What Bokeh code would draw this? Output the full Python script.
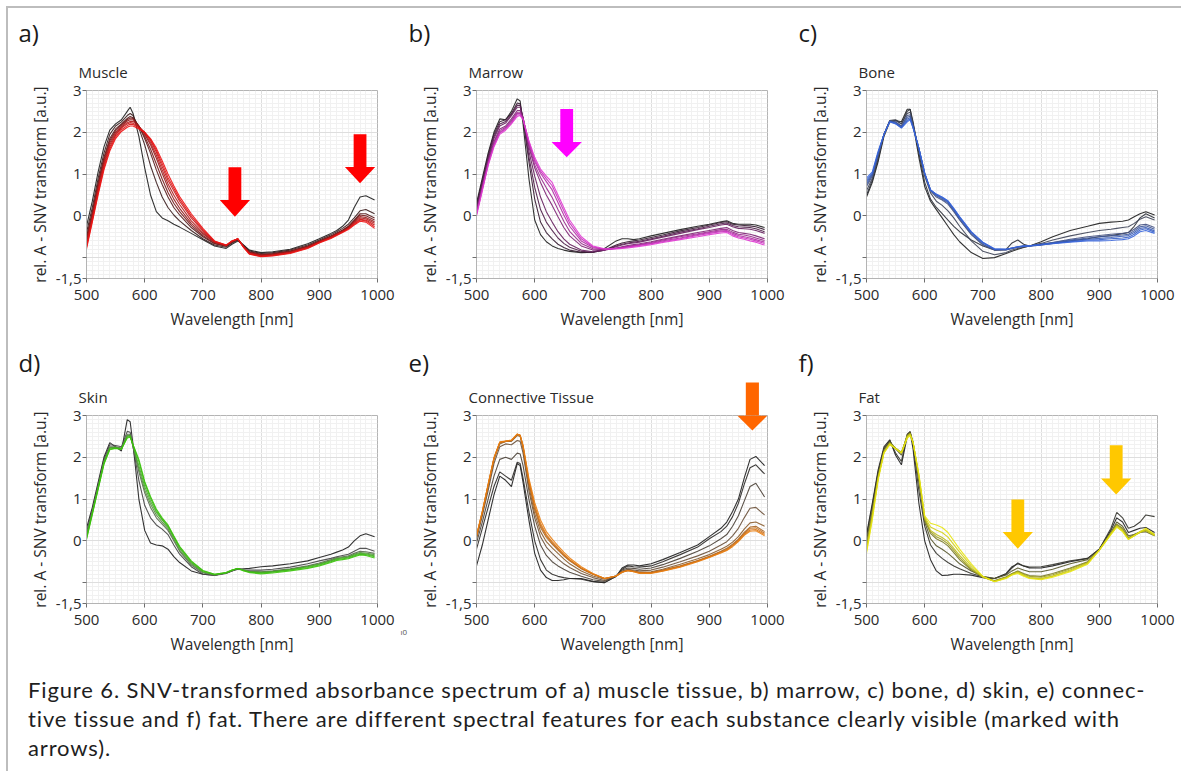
from bokeh.plotting import figure
from bokeh.layouts import column, row
from bokeh.models import Range1d, FixedTicker, Label, PolyAnnotation, Div
from bokeh.embed import file_html
from bokeh.resources import INLINE

# ---------------- data ----------------
WAVELENGTH = [500, 510, 520, 530, 540, 550, 560, 570, 575, 580,
              590, 600, 610, 620, 630, 640, 650, 660, 680, 700,
              720, 740, 750, 760, 770, 780, 800, 820, 850, 880,
              900, 920, 930, 940, 950, 960, 970, 980, 995]

X_TICKS = [500, 600, 700, 800, 900, 1000]
Y_GRID_TICKS = [-1.5, -1, 0, 1, 2, 3]
Y_LABELLED_TICKS = [-1.5, 0, 1, 2, 3]
Y_UNLABELLED_TICKS = [-1]
Y_TICK_LABELS = {-1.5: "-1,5"}

MUSCLE = [
    [-0.25, 0.35, 1.05, 1.65, 2.05, 2.2, 2.3, 2.5, 2.6, 2.45,
     1.9, 1.15, 0.5, 0.1, -0.05, -0.12, -0.2, -0.27, -0.42, -0.57,
     -0.72, -0.78, -0.68, -0.6, -0.7, -0.82, -0.88, -0.86, -0.8, -0.67,
     -0.55, -0.42, -0.35, -0.25, -0.1, 0.2, 0.45, 0.48, 0.38],
    [-0.4, 0.2, 0.9, 1.5, 1.95, 2.15, 2.25, 2.4, 2.45, 2.4,
     2.1, 1.7, 1.2, 0.8, 0.45, 0.2, 0.02, -0.12, -0.35, -0.55,
     -0.7, -0.75, -0.65, -0.58, -0.7, -0.84, -0.9, -0.88, -0.82, -0.7,
     -0.58, -0.45, -0.38, -0.3, -0.2, -0.05, 0.12, 0.15, 0.05],
    [-0.5, 0.1, 0.8, 1.4, 1.85, 2.08, 2.2, 2.33, 2.38, 2.35,
     2.15, 1.85, 1.5, 1.1, 0.75, 0.45, 0.2, 0.02, -0.28, -0.5,
     -0.67, -0.73, -0.63, -0.57, -0.72, -0.86, -0.92, -0.9, -0.84, -0.72,
     -0.6, -0.48, -0.41, -0.34, -0.25, -0.1, 0.05, 0.05, -0.05],
    [-0.55, 0.05, 0.75, 1.35, 1.8, 2.04, 2.18, 2.3, 2.34, 2.33,
     2.15, 1.9, 1.6, 1.24, 0.88, 0.56, 0.3, 0.1, -0.23, -0.47,
     -0.66, -0.72, -0.62, -0.56, -0.73, -0.87, -0.93, -0.91, -0.85, -0.73,
     -0.61, -0.49, -0.42, -0.35, -0.26, -0.12, 0.02, 0.0, -0.1],
    [-0.6, 0.0, 0.7, 1.3, 1.75, 2.0, 2.15, 2.27, 2.3, 2.3,
     2.15, 1.95, 1.7, 1.38, 1.02, 0.68, 0.4, 0.18, -0.18, -0.43,
     -0.64, -0.72, -0.62, -0.56, -0.74, -0.88, -0.94, -0.92, -0.86, -0.74,
     -0.62, -0.5, -0.43, -0.36, -0.28, -0.14, -0.02, -0.04, -0.14],
    [-0.65, -0.04, 0.65, 1.25, 1.7, 1.96, 2.12, 2.23, 2.26, 2.26,
     2.14, 1.98, 1.75, 1.45, 1.1, 0.77, 0.5, 0.27, -0.12, -0.4,
     -0.63, -0.71, -0.61, -0.55, -0.74, -0.89, -0.95, -0.93, -0.87, -0.75,
     -0.62, -0.51, -0.44, -0.37, -0.29, -0.16, -0.05, -0.07, -0.18],
    [-0.7, -0.08, 0.6, 1.2, 1.65, 1.93, 2.1, 2.2, 2.23, 2.22,
     2.12, 2.0, 1.8, 1.52, 1.18, 0.85, 0.6, 0.35, -0.05, -0.36,
     -0.62, -0.71, -0.61, -0.55, -0.75, -0.9, -0.96, -0.94, -0.88, -0.76,
     -0.63, -0.52, -0.45, -0.38, -0.3, -0.18, -0.08, -0.1, -0.22],
    [-0.75, -0.12, 0.55, 1.15, 1.6, 1.89, 2.06, 2.16, 2.19, 2.19,
     2.1, 2.0, 1.83, 1.57, 1.25, 0.92, 0.66, 0.4, 0.0, -0.33,
     -0.61, -0.7, -0.6, -0.55, -0.75, -0.91, -0.97, -0.95, -0.89, -0.77,
     -0.64, -0.53, -0.46, -0.39, -0.31, -0.2, -0.1, -0.12, -0.26],
    [-0.8, -0.15, 0.5, 1.1, 1.55, 1.85, 2.02, 2.12, 2.15, 2.15,
     2.08, 2.0, 1.85, 1.62, 1.32, 1.0, 0.72, 0.46, 0.05, -0.3,
     -0.6, -0.7, -0.6, -0.55, -0.76, -0.92, -0.98, -0.96, -0.9, -0.78,
     -0.65, -0.54, -0.47, -0.4, -0.33, -0.22, -0.13, -0.15, -0.3],
]
MUSCLE_COLORS = ["#1e1e1e", "#3a1c1c", "#581b1b", "#761a1a", "#941818",
                 "#b01717", "#c81616", "#dc1414", "#ee1212"]

MARROW = [
    [0.3, 0.9, 1.5, 2.0, 2.32, 2.3, 2.5, 2.8, 2.75, 2.2,
     0.9, -0.1, -0.45, -0.62, -0.72, -0.78, -0.82, -0.85, -0.88, -0.87,
     -0.78, -0.6, -0.55, -0.55, -0.57, -0.55, -0.48, -0.42, -0.33, -0.25,
     -0.2, -0.14, -0.12, -0.18, -0.2, -0.2, -0.2, -0.22, -0.28],
    [0.25, 0.85, 1.45, 1.95, 2.25, 2.3, 2.45, 2.7, 2.68, 2.3,
     1.3, 0.4, -0.15, -0.4, -0.55, -0.68, -0.76, -0.82, -0.87, -0.87,
     -0.82, -0.7, -0.65, -0.62, -0.6, -0.58, -0.52, -0.46, -0.36, -0.28,
     -0.22, -0.16, -0.14, -0.2, -0.22, -0.23, -0.24, -0.26, -0.33],
    [0.2, 0.8, 1.4, 1.9, 2.2, 2.26, 2.42, 2.65, 2.64, 2.33,
     1.42, 0.68, 0.15, -0.15, -0.35, -0.53, -0.66, -0.75, -0.85, -0.87,
     -0.82, -0.72, -0.68, -0.65, -0.63, -0.61, -0.55, -0.49, -0.39, -0.31,
     -0.25, -0.19, -0.17, -0.23, -0.26, -0.27, -0.28, -0.31, -0.38],
    [0.15, 0.75, 1.35, 1.85, 2.15, 2.22, 2.4, 2.6, 2.6, 2.35,
     1.55, 0.95, 0.45, 0.1, -0.15, -0.38, -0.55, -0.68, -0.82, -0.86,
     -0.82, -0.74, -0.7, -0.67, -0.65, -0.63, -0.57, -0.51, -0.42, -0.33,
     -0.28, -0.22, -0.2, -0.26, -0.3, -0.31, -0.32, -0.35, -0.42],
    [0.1, 0.7, 1.3, 1.78, 2.08, 2.15, 2.32, 2.52, 2.52, 2.35,
     1.65, 1.15, 0.8, 0.5, 0.25, -0.02, -0.28, -0.48, -0.72, -0.82,
     -0.82, -0.77, -0.74, -0.71, -0.69, -0.67, -0.62, -0.56, -0.48, -0.4,
     -0.35, -0.3, -0.28, -0.35, -0.4, -0.42, -0.44, -0.48, -0.55],
    [0.08, 0.68, 1.28, 1.74, 2.04, 2.12, 2.28, 2.48, 2.48, 2.34,
     1.7, 1.22, 0.92, 0.67, 0.44, 0.15, -0.13, -0.37, -0.66, -0.79,
     -0.81, -0.78, -0.75, -0.73, -0.71, -0.69, -0.64, -0.58, -0.5, -0.43,
     -0.38, -0.33, -0.32, -0.39, -0.44, -0.46, -0.49, -0.53, -0.59],
    [0.05, 0.65, 1.25, 1.7, 2.0, 2.1, 2.25, 2.45, 2.45, 2.33,
     1.75, 1.3, 1.02, 0.82, 0.62, 0.32, 0.02, -0.25, -0.6, -0.76,
     -0.8, -0.78, -0.76, -0.74, -0.72, -0.7, -0.66, -0.6, -0.53, -0.45,
     -0.4, -0.36, -0.35, -0.42, -0.47, -0.5, -0.53, -0.57, -0.63],
    [0.02, 0.62, 1.22, 1.68, 1.98, 2.08, 2.22, 2.42, 2.42, 2.32,
     1.78, 1.35, 1.07, 0.89, 0.72, 0.42, 0.12, -0.17, -0.55, -0.74,
     -0.8, -0.78, -0.77, -0.75, -0.73, -0.71, -0.67, -0.62, -0.55, -0.47,
     -0.42, -0.38, -0.37, -0.45, -0.5, -0.53, -0.56, -0.6, -0.66],
    [0.0, 0.6, 1.2, 1.65, 1.95, 2.05, 2.2, 2.38, 2.4, 2.3,
     1.8, 1.4, 1.12, 0.95, 0.8, 0.5, 0.2, -0.1, -0.5, -0.72,
     -0.79, -0.79, -0.78, -0.77, -0.75, -0.73, -0.69, -0.64, -0.57, -0.5,
     -0.45, -0.41, -0.4, -0.48, -0.53, -0.56, -0.6, -0.63, -0.7],
]
MARROW_COLORS = ["#1e1e1e", "#361c32", "#4e1e48", "#66205e", "#7e2474",
                 "#982a8c", "#b02ea4", "#c832bc", "#e038d2"]

BONE = [
    [0.45, 0.8, 1.3, 1.9, 2.25, 2.28, 2.25, 2.55, 2.55, 2.2,
     1.4, 0.7, 0.35, 0.15, -0.05, -0.25, -0.45, -0.62, -0.88, -1.02,
     -1.0, -0.9, -0.85, -0.8, -0.76, -0.72, -0.62, -0.5, -0.35, -0.25,
     -0.18, -0.15, -0.14, -0.13, -0.1, -0.02, 0.05, 0.1, 0.02],
    [0.5, 0.85, 1.35, 1.95, 2.28, 2.3, 2.2, 2.5, 2.55, 2.25,
     1.5, 0.8, 0.4, 0.2, 0.05, -0.1, -0.25, -0.38, -0.58, -0.72,
     -0.82, -0.8, -0.65, -0.58, -0.68, -0.72, -0.7, -0.66, -0.6, -0.55,
     -0.5, -0.47, -0.45, -0.43, -0.4, -0.25, -0.05, 0.05, -0.05],
    [0.6, 0.9, 1.4, 1.95, 2.27, 2.28, 2.2, 2.45, 2.48, 2.2,
     1.55, 0.95, 0.55, 0.35, 0.25, 0.12, -0.05, -0.25, -0.6, -0.85,
     -0.93, -0.88, -0.82, -0.78, -0.75, -0.72, -0.66, -0.58, -0.48, -0.4,
     -0.35, -0.32, -0.3, -0.28, -0.26, -0.18, -0.08, -0.02, -0.1],
    [0.7, 0.95, 1.45, 1.95, 2.27, 2.25, 2.15, 2.4, 2.42, 2.15,
     1.6, 1.0, 0.6, 0.45, 0.38, 0.28, 0.1, -0.1, -0.45, -0.7,
     -0.82, -0.82, -0.78, -0.75, -0.73, -0.72, -0.68, -0.64, -0.56, -0.5,
     -0.47, -0.44, -0.43, -0.42, -0.4, -0.32, -0.22, -0.2, -0.28],
    [0.75, 0.98, 1.48, 1.95, 2.27, 2.24, 2.14, 2.36, 2.38, 2.14,
     1.61, 1.01, 0.61, 0.48, 0.4, 0.31, 0.13, -0.08, -0.43, -0.68,
     -0.81, -0.81, -0.78, -0.75, -0.73, -0.72, -0.68, -0.64, -0.58, -0.53,
     -0.5, -0.48, -0.47, -0.46, -0.44, -0.36, -0.26, -0.24, -0.32],
    [0.8, 1.0, 1.5, 1.95, 2.26, 2.22, 2.12, 2.32, 2.35, 2.12,
     1.62, 1.02, 0.62, 0.5, 0.42, 0.33, 0.15, -0.05, -0.4, -0.65,
     -0.8, -0.8, -0.77, -0.74, -0.72, -0.72, -0.68, -0.65, -0.6, -0.56,
     -0.54, -0.52, -0.5, -0.49, -0.47, -0.4, -0.3, -0.28, -0.36],
    [0.85, 1.02, 1.52, 1.95, 2.25, 2.21, 2.11, 2.28, 2.32, 2.11,
     1.62, 1.02, 0.62, 0.51, 0.44, 0.35, 0.17, -0.03, -0.39, -0.64,
     -0.8, -0.8, -0.77, -0.74, -0.72, -0.72, -0.69, -0.66, -0.62, -0.58,
     -0.57, -0.55, -0.54, -0.53, -0.51, -0.44, -0.34, -0.31, -0.39],
    [0.9, 1.05, 1.55, 1.95, 2.25, 2.2, 2.1, 2.25, 2.3, 2.1,
     1.62, 1.02, 0.62, 0.52, 0.45, 0.36, 0.18, -0.02, -0.38, -0.63,
     -0.79, -0.8, -0.77, -0.74, -0.73, -0.72, -0.7, -0.67, -0.63, -0.6,
     -0.6, -0.59, -0.58, -0.57, -0.55, -0.48, -0.38, -0.35, -0.42],
]
BONE_COLORS = ["#1e1e1e", "#2c3038", "#3e4456", "#425080", "#3e5698",
               "#3a5cb4", "#3860c8", "#3664dc"]

SKIN = [
    [0.3, 0.8, 1.4, 2.0, 2.35, 2.25, 2.15, 2.9, 2.85, 2.3,
     1.0, 0.25, -0.05, -0.1, -0.12, -0.2, -0.38, -0.52, -0.72, -0.8,
     -0.82, -0.77, -0.72, -0.68, -0.67, -0.66, -0.62, -0.6, -0.55, -0.48,
     -0.4, -0.32, -0.27, -0.22, -0.15, 0.0, 0.12, 0.17, 0.1],
    [0.2, 0.75, 1.35, 1.95, 2.3, 2.28, 2.25, 2.62, 2.6, 2.25,
     1.45, 0.85, 0.55, 0.38, 0.28, 0.15, -0.1, -0.32, -0.62, -0.8,
     -0.83, -0.78, -0.72, -0.66, -0.7, -0.7, -0.7, -0.68, -0.63, -0.55,
     -0.48, -0.42, -0.38, -0.35, -0.32, -0.25, -0.18, -0.18, -0.25],
    [0.15, 0.7, 1.3, 1.9, 2.25, 2.25, 2.22, 2.55, 2.55, 2.25,
     1.65, 1.15, 0.8, 0.55, 0.4, 0.25, 0.0, -0.25, -0.58, -0.77,
     -0.82, -0.77, -0.71, -0.66, -0.7, -0.73, -0.74, -0.72, -0.67, -0.6,
     -0.53, -0.45, -0.4, -0.38, -0.36, -0.3, -0.25, -0.26, -0.3],
    [0.12, 0.69, 1.29, 1.89, 2.23, 2.24, 2.21, 2.52, 2.53, 2.27,
     1.72, 1.22, 0.88, 0.62, 0.45, 0.29, 0.04, -0.22, -0.55, -0.75,
     -0.81, -0.77, -0.71, -0.66, -0.7, -0.73, -0.75, -0.73, -0.68, -0.61,
     -0.55, -0.47, -0.42, -0.4, -0.38, -0.32, -0.28, -0.29, -0.33],
    [0.1, 0.68, 1.28, 1.88, 2.22, 2.23, 2.2, 2.5, 2.52, 2.28,
     1.8, 1.3, 0.95, 0.68, 0.5, 0.33, 0.08, -0.18, -0.52, -0.74,
     -0.81, -0.77, -0.71, -0.66, -0.7, -0.74, -0.76, -0.74, -0.69, -0.62,
     -0.56, -0.48, -0.43, -0.41, -0.39, -0.34, -0.3, -0.31, -0.36],
    [0.05, 0.65, 1.25, 1.85, 2.2, 2.22, 2.2, 2.48, 2.5, 2.3,
     1.9, 1.38, 1.02, 0.72, 0.52, 0.36, 0.1, -0.15, -0.5, -0.72,
     -0.8, -0.76, -0.7, -0.66, -0.71, -0.75, -0.77, -0.75, -0.7, -0.64,
     -0.58, -0.5, -0.45, -0.43, -0.41, -0.36, -0.32, -0.33, -0.38],
    [0.03, 0.63, 1.23, 1.83, 2.18, 2.21, 2.19, 2.46, 2.48, 2.3,
     1.95, 1.42, 1.06, 0.76, 0.55, 0.38, 0.12, -0.13, -0.48, -0.71,
     -0.8, -0.76, -0.7, -0.66, -0.72, -0.76, -0.79, -0.77, -0.72, -0.66,
     -0.6, -0.52, -0.47, -0.45, -0.43, -0.38, -0.34, -0.35, -0.41],
]
SKIN_COLORS = ["#1e1e1e", "#444444", "#5a6a50", "#569040", "#4aa82c", "#40b81a", "#38c408"]

CONNECTIVE = [
    [-0.6, -0.1, 0.5, 1.1, 1.55, 1.45, 1.3, 1.85, 1.8, 1.4,
     0.5, -0.3, -0.7, -0.88, -0.95, -0.95, -0.93, -0.9, -0.9, -0.97,
     -1.0, -0.85, -0.65, -0.58, -0.58, -0.6, -0.55, -0.45, -0.28, -0.1,
     0.1, 0.3, 0.45, 0.7, 1.0, 1.5, 1.95, 2.02, 1.8],
    [-0.2, 0.3, 0.8, 1.3, 1.65, 1.55, 1.45, 1.88, 1.85, 1.5,
     0.7, 0.0, -0.45, -0.7, -0.8, -0.85, -0.88, -0.9, -0.92, -0.98,
     -1.0, -0.85, -0.68, -0.6, -0.62, -0.63, -0.6, -0.5, -0.33, -0.15,
     0.05, 0.22, 0.35, 0.58, 0.9, 1.35, 1.75, 1.82, 1.6],
    [-0.05, 0.45, 1.0, 1.55, 1.95, 2.0, 1.95, 2.1, 2.08, 1.8,
     1.0, 0.35, -0.1, -0.35, -0.5, -0.6, -0.68, -0.75, -0.85, -0.93,
     -0.97, -0.85, -0.7, -0.65, -0.66, -0.68, -0.65, -0.57, -0.42, -0.25,
     -0.12, 0.05, 0.15, 0.35, 0.6, 0.95, 1.3, 1.38, 1.05],
    [0.05, 0.6, 1.2, 1.85, 2.25, 2.32, 2.3, 2.4, 2.38, 2.1,
     1.2, 0.55, 0.1, -0.15, -0.3, -0.43, -0.55, -0.64, -0.78, -0.88,
     -0.95, -0.85, -0.72, -0.68, -0.7, -0.72, -0.7, -0.63, -0.5, -0.36,
     -0.25, -0.1, -0.02, 0.12, 0.3, 0.55, 0.78, 0.8, 0.62],
    [0.08, 0.65, 1.3, 1.95, 2.32, 2.38, 2.38, 2.52, 2.5, 2.2,
     1.3, 0.65, 0.22, -0.02, -0.17, -0.3, -0.43, -0.55, -0.72, -0.84,
     -0.92, -0.84, -0.74, -0.7, -0.72, -0.75, -0.74, -0.68, -0.56, -0.43,
     -0.33, -0.2, -0.13, -0.03, 0.1, 0.28, 0.43, 0.45, 0.35],
    [0.1, 0.68, 1.33, 1.97, 2.35, 2.38, 2.4, 2.55, 2.53, 2.25,
     1.38, 0.75, 0.32, 0.08, -0.08, -0.22, -0.36, -0.48, -0.67, -0.8,
     -0.9, -0.84, -0.75, -0.71, -0.73, -0.76, -0.76, -0.7, -0.6, -0.47,
     -0.37, -0.25, -0.18, -0.08, 0.04, 0.2, 0.33, 0.35, 0.22],
    [0.11, 0.69, 1.34, 1.97, 2.35, 2.38, 2.4, 2.55, 2.52, 2.26,
     1.42, 0.8, 0.37, 0.12, -0.05, -0.2, -0.34, -0.46, -0.66, -0.8,
     -0.9, -0.84, -0.75, -0.71, -0.73, -0.76, -0.76, -0.71, -0.61, -0.48,
     -0.38, -0.26, -0.2, -0.1, 0.02, 0.17, 0.3, 0.31, 0.18],
    [0.12, 0.7, 1.35, 1.98, 2.36, 2.38, 2.4, 2.55, 2.52, 2.27,
     1.45, 0.85, 0.42, 0.15, -0.02, -0.17, -0.32, -0.45, -0.65, -0.79,
     -0.9, -0.84, -0.75, -0.71, -0.74, -0.77, -0.77, -0.72, -0.62, -0.49,
     -0.39, -0.28, -0.22, -0.12, 0.0, 0.15, 0.26, 0.27, 0.15],
    [0.13, 0.71, 1.36, 1.99, 2.37, 2.39, 2.41, 2.56, 2.53, 2.29,
     1.5, 0.92, 0.5, 0.22, 0.04, -0.12, -0.27, -0.41, -0.62, -0.78,
     -0.9, -0.84, -0.75, -0.71, -0.74, -0.78, -0.78, -0.73, -0.63, -0.5,
     -0.4, -0.29, -0.23, -0.14, -0.02, 0.13, 0.23, 0.24, 0.12],
]
CONNECTIVE_COLORS = ["#1e1e1e", "#2c2a28", "#4a4036", "#6a5038", "#8a5c2c",
                     "#a86422", "#c46e18", "#d87414", "#ea7e10"]

FAT = [
    [0.15, 0.9, 1.7, 2.25, 2.42, 2.05, 1.82, 2.5, 2.6, 2.2,
     0.9, 0.0, -0.45, -0.72, -0.83, -0.82, -0.8, -0.8, -0.82, -0.88,
     -0.9, -0.78, -0.62, -0.55, -0.6, -0.65, -0.65, -0.6, -0.5, -0.42,
     -0.2, 0.25, 0.55, 0.45, 0.2, 0.25, 0.3, 0.32, 0.2],
    [0.1, 0.85, 1.65, 2.2, 2.4, 2.1, 1.9, 2.55, 2.62, 2.3,
     1.2, 0.35, -0.1, -0.3, -0.42, -0.52, -0.6, -0.67, -0.78, -0.86,
     -0.9, -0.8, -0.65, -0.53, -0.6, -0.63, -0.62, -0.57, -0.48, -0.42,
     -0.2, 0.3, 0.68, 0.55, 0.3, 0.35, 0.45, 0.62, 0.58],
    [0.0, 0.75, 1.6, 2.2, 2.38, 2.2, 2.05, 2.55, 2.6, 2.35,
     1.4, 0.45, 0.05, -0.12, -0.2, -0.3, -0.42, -0.55, -0.72, -0.85,
     -0.9, -0.82, -0.72, -0.65, -0.7, -0.74, -0.74, -0.68, -0.55, -0.45,
     -0.2, 0.2, 0.45, 0.35, 0.12, 0.15, 0.2, 0.22, 0.12],
    [-0.1, 0.68, 1.55, 2.15, 2.35, 2.22, 2.1, 2.52, 2.58, 2.36,
     1.5, 0.5, 0.18, 0.05, -0.02, -0.12, -0.28, -0.45, -0.7, -0.87,
     -0.95, -0.86, -0.78, -0.72, -0.78, -0.83, -0.85, -0.78, -0.65, -0.5,
     -0.22, 0.2, 0.4, 0.3, 0.08, 0.15, 0.22, 0.26, 0.16],
    [-0.15, 0.64, 1.52, 2.13, 2.34, 2.22, 2.11, 2.51, 2.57, 2.36,
     1.52, 0.52, 0.22, 0.1, 0.03, -0.07, -0.23, -0.4, -0.68, -0.87,
     -0.96, -0.87, -0.79, -0.73, -0.8, -0.85, -0.87, -0.81, -0.67, -0.51,
     -0.22, 0.19, 0.38, 0.28, 0.06, 0.13, 0.21, 0.25, 0.14],
    [-0.2, 0.6, 1.5, 2.12, 2.33, 2.22, 2.12, 2.5, 2.56, 2.36,
     1.55, 0.55, 0.25, 0.15, 0.08, -0.02, -0.18, -0.35, -0.65, -0.87,
     -0.97, -0.88, -0.8, -0.75, -0.82, -0.88, -0.9, -0.84, -0.7, -0.53,
     -0.22, 0.18, 0.36, 0.25, 0.05, 0.12, 0.2, 0.24, 0.12],
    [-0.25, 0.55, 1.48, 2.11, 2.32, 2.21, 2.11, 2.48, 2.54, 2.36,
     1.58, 0.58, 0.33, 0.26, 0.2, 0.09, -0.09, -0.27, -0.6, -0.86,
     -0.97, -0.89, -0.81, -0.76, -0.83, -0.89, -0.91, -0.85, -0.72, -0.54,
     -0.22, 0.16, 0.34, 0.23, 0.04, 0.12, 0.21, 0.27, 0.13],
    [-0.3, 0.5, 1.45, 2.1, 2.3, 2.2, 2.1, 2.45, 2.52, 2.35,
     1.6, 0.6, 0.42, 0.38, 0.32, 0.2, 0.0, -0.2, -0.55, -0.85,
     -0.98, -0.9, -0.82, -0.78, -0.85, -0.9, -0.93, -0.87, -0.74, -0.56,
     -0.23, 0.15, 0.33, 0.22, 0.03, 0.12, 0.22, 0.3, 0.15],
]
FAT_COLORS = ["#1e1e1e", "#33332c", "#55552a", "#7a7a26", "#9c9c20",
              "#baba1a", "#d4d214", "#e8e610"]

# arrows: (centre wavelength, top of shaft, base of head, tip)
MUSCLE_ARROWS = [(755, 1.16, 0.38, -0.02), (970, 1.95, 1.17, 0.78)]
MARROW_ARROWS = [(655, 2.56, 1.77, 1.40)]
BONE_ARROWS = []
SKIN_ARROWS = []
CONNECTIVE_ARROWS = [(974, 3.79, 3.00, 2.64)]
FAT_ARROWS = [(760, 0.99, 0.21, -0.19), (929, 2.29, 1.49, 1.11)]

CAPTION_LINES = [
    "Figure 6. SNV-transformed absorbance spectrum of a) muscle tissue, b) marrow, c) bone, d) skin, e) connec-",
    "tive tissue and f) fat. There are different spectral features for each substance clearly visible (marked with",
    "arrows).",
]

# ---------------- styling / layout ----------------
FONT = "Open Sans"
FIG_W, FIG_H = 390, 325
BORDER_L, BORDER_R, BORDER_T, BORDER_B = 78, 21, 82, 55
FRAME_W = FIG_W - BORDER_L - BORDER_R
FRAME_H = FIG_H - BORDER_T - BORDER_B
X0, X1, Y0, Y1 = 500, 1000, -1.5, 3
SHAFT_HW, HEAD_HW = 11, 26
TICK_COLOR = "#6e6e6e"


def px_to_data(dx, dy):
    """offset in pixels from the frame's top-left corner -> data coords"""
    return (X0 + dx * (X1 - X0) / FRAME_W, Y1 - dy * (Y1 - Y0) / FRAME_H)


def make_panel(letter, name, curves, colors, arrows, arrow_color, letter_dy):
    p = figure(width=FIG_W, height=FIG_H, output_backend="svg", toolbar_location=None,
               x_range=Range1d(X0, X1), y_range=Range1d(Y0, Y1),
               min_border_left=BORDER_L, min_border_right=BORDER_R,
               min_border_top=BORDER_T, min_border_bottom=BORDER_B,
               background_fill_color="white", border_fill_color="white")
    p.outline_line_color = "#b4b4b4"

    p.xaxis.ticker = FixedTicker(ticks=X_TICKS)
    p.xgrid.ticker = FixedTicker(ticks=X_TICKS, minor_ticks=list(range(500, 1001, 10)))
    p.yaxis.ticker = FixedTicker(ticks=Y_LABELLED_TICKS, minor_ticks=Y_UNLABELLED_TICKS)
    p.ygrid.ticker = FixedTicker(ticks=Y_GRID_TICKS,
                                 minor_ticks=[round(-1.5 + 0.1 * i, 2) for i in range(46)])
    p.yaxis.major_label_overrides = Y_TICK_LABELS
    p.xaxis.axis_label = "Wavelength [nm]"
    p.yaxis.axis_label = "rel. A - SNV transform [a.u.]"
    for ax in (p.xaxis[0], p.yaxis[0]):
        ax.axis_line_color = "#b4b4b4"
        ax.major_tick_line_color = TICK_COLOR
        ax.major_tick_in = 0
        ax.major_tick_out = 4
        ax.major_label_text_font = FONT
        ax.major_label_text_font_size = "15px"
        ax.major_label_text_color = "#2a2a2a"
        ax.axis_label_text_font = FONT
        ax.axis_label_text_font_size = "15.5px"
        ax.axis_label_text_font_style = "normal"
        ax.axis_label_text_color = "#2a2a2a"
    p.xaxis.minor_tick_line_color = None
    p.yaxis.minor_tick_line_color = TICK_COLOR
    p.yaxis.minor_tick_in = 0
    p.yaxis.minor_tick_out = 4
    p.yaxis.major_label_standoff = 1
    p.yaxis.axis_label_standoff = 2
    p.xaxis.major_label_standoff = 7
    p.xaxis.axis_label_standoff = 5

    for g in (p.xgrid[0], p.ygrid[0]):
        g.grid_line_color = "#dedede"
        g.minor_grid_line_color = "#f1f1f1"

    for curve, col in zip(curves, colors):
        p.line(WAVELENGTH, curve, line_color=col, line_width=1.1, line_alpha=0.9)

    px_per_unit = FRAME_H / (Y1 - Y0)
    for cx, top, base, tip in arrows:
        if top > Y1:
            # part of the shaft sticking out above the frame: a filled box that is
            # laid out in a side panel, so it is not clipped to the frame
            half_h = int(round(((top - Y1) * px_per_unit - 16.3) / 2))
            p.add_layout(Label(x=cx, y=Y1, text="\u00a0", text_font=FONT, text_font_size="12px",
                               anchor="bottom_center",
                               padding=dict(left=5, right=5, top=half_h, bottom=half_h),
                               background_fill_color=arrow_color, background_fill_alpha=1.0,
                               border_line_color=None), "right")
            top = Y1
        p.add_layout(PolyAnnotation(
            xs=[cx - SHAFT_HW, cx + SHAFT_HW, cx + SHAFT_HW, cx + HEAD_HW, cx,
                cx - HEAD_HW, cx - SHAFT_HW],
            ys=[top, top, base, base, tip, base, base],
            fill_color=arrow_color, fill_alpha=1.0, line_color=None))

    lx, ly = px_to_data(-68, letter_dy)
    p.add_layout(Label(x=lx, y=ly, text=letter, text_font=FONT, text_font_size="24px",
                       text_color="#1a1a1a", text_baseline="middle", text_align="left"),
                 "above")
    tx, ty = px_to_data(-8, -19)
    p.add_layout(Label(x=tx, y=ty, text=name, text_font=FONT, text_font_size="15px",
                       text_color="#2a2a2a", text_baseline="middle", text_align="left"),
                 "above")
    return p


pa = make_panel("a)", "Muscle", MUSCLE, MUSCLE_COLORS, MUSCLE_ARROWS, "#ff0000", -58)
pb = make_panel("b)", "Marrow", MARROW, MARROW_COLORS, MARROW_ARROWS, "#ff00ff", -58)
pc = make_panel("c)", "Bone", BONE, BONE_COLORS, BONE_ARROWS, "#2050d0", -58)
pd = make_panel("d)", "Skin", SKIN, SKIN_COLORS, SKIN_ARROWS, "#40c000", -53)
pe = make_panel("e)", "Connective Tissue", CONNECTIVE, CONNECTIVE_COLORS, CONNECTIVE_ARROWS,
                "#ff6600", -53)
pf = make_panel("f)", "Fat", FAT, FAT_COLORS, FAT_ARROWS, "#ffc800", -53)

# small clipped tick fragment visible in the source image
fx, fy = px_to_data(-76, 216)
pe.add_layout(Label(x=fx, y=fy, text="ı0", text_font=FONT, text_font_size="8px",
                    text_color="#555555", text_baseline="middle"), "left")

caption = Div(
    text=('<div style="font-family: Lato; font-size: 22px; letter-spacing: 0.87px; line-height: 29px;'
          ' color: #1e1e1e; white-space: nowrap; padding-left: 15px; padding-top: 12px;">'
          + "<br>".join(CAPTION_LINES) + "</div>"),
    width=1170, height=105)

root = column(row(pa, pb, pc), row(pd, pe, pf), caption,
              styles={"margin-left": "6px", "margin-top": "6px",
                      "border-left": "2px solid #bdbdbd", "border-top": "2px solid #bdbdbd"})

open("out.html", "w").write(file_html(root, INLINE))
